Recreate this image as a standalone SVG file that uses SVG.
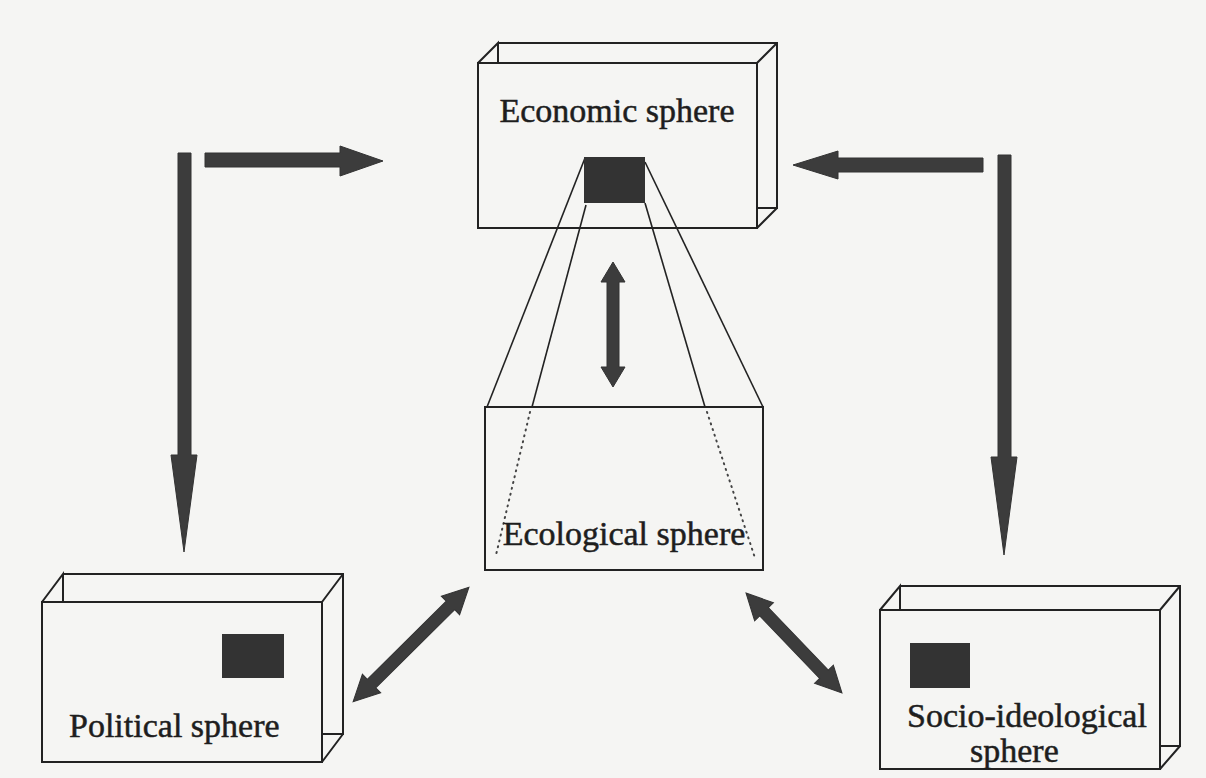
<svg xmlns="http://www.w3.org/2000/svg" width="1206" height="778" viewBox="0 0 1206 778">
<style>
.box{fill:none;stroke:#222;stroke-width:2}
.sq{fill:#333}
.arr{fill:#3c3c3c;stroke:#333;stroke-width:1}
.lbl{font-family:"Liberation Serif","Times New Roman",serif;font-size:34px;fill:#1e1e1e;stroke:#1e1e1e;stroke-width:0.5}
.ln{stroke:#222;stroke-width:1.6;fill:none}
.dot{stroke:#444;stroke-width:2;fill:none;stroke-dasharray:1 5;stroke-linecap:round}
</style>
<rect width="1206" height="778" fill="#f5f5f3"/>

<g id="connectors">
  <line class="ln" x1="585" y1="158" x2="487" y2="407"/>
  <line class="ln" x1="645" y1="162" x2="763" y2="407"/>
  <line class="ln" x1="586" y1="205" x2="532" y2="407"/>
  <line class="ln" x1="645" y1="203" x2="705" y2="407"/>
  <line class="dot" x1="530" y1="412" x2="496" y2="555"/>
  <line class="dot" x1="707" y1="412" x2="755" y2="558"/>
  <polygon class="arr" points="178,153 191,153 191,455 197,455 184,552 171,455 178,455"/>
  <polygon class="arr" points="205,153 340,153 340,146 383,161 340,176 340,167 205,167"/>
  <polygon class="arr" points="793,165 838,151 838,158 983,158 983,172 838,172 838,179"/>
  <polygon class="arr" points="998,155 1011,155 1011,457 1017,457 1004,555 991,457 998,457"/>
  <polygon class="arr" points="613,262 625,282 619,282 619,367 625,367 613,387 601,367 607,367 607,282 601,282"/>
  <polygon class="arr" transform="translate(411,644.5) rotate(-44.7)" points="-81.5,0 -55.5,-13 -55.5,-6 55.5,-6 55.5,-13 81.5,0 55.5,13 55.5,6 -55.5,6 -55.5,13"/>
  <polygon class="arr" transform="translate(794,643) rotate(46.2)" points="-69.3,0 -43.3,-13 -43.3,-6 43.3,-6 43.3,-13 69.3,0 43.3,13 43.3,6 -43.3,6 -43.3,13"/>
</g>

<g id="economic">
  <path class="box" d="M498,43 H777 V208 H757 M478,63 L498,43 V63 M757,63 L777,43 M757,228 L777,208"/>
  <rect class="box" x="478" y="63" width="279" height="165"/>
  <text class="lbl" x="617" y="122" text-anchor="middle">Economic sphere</text>
  <rect class="sq" x="584" y="157" width="61" height="46"/>
</g>

<g id="ecological">
  <rect class="box" x="485" y="407" width="278" height="163"/>
  <text class="lbl" x="624" y="545" text-anchor="middle">Ecological sphere</text>
</g>

<g id="political">
  <path class="box" d="M63,574 H343 V734 H322 M42,602 L63,574 V602 M322,602 L343,574 M322,762 L343,734"/>
  <rect class="box" x="42" y="602" width="280" height="160"/>
  <rect class="sq" x="222" y="634" width="62" height="44"/>
  <text class="lbl" x="69" y="737">Political sphere</text>
</g>

<g id="socio">
  <path class="box" d="M900,586 H1180 V746 H1160 M880,610 L900,586 V610 M1160,610 L1180,586 M1160,769 L1180,746"/>
  <rect class="box" x="880" y="610" width="280" height="159"/>
  <rect class="sq" x="910" y="643" width="60" height="45"/>
  <text class="lbl" x="907" y="727">Socio-ideological</text>
  <text class="lbl" x="970" y="762">sphere</text>
</g>
</svg>
